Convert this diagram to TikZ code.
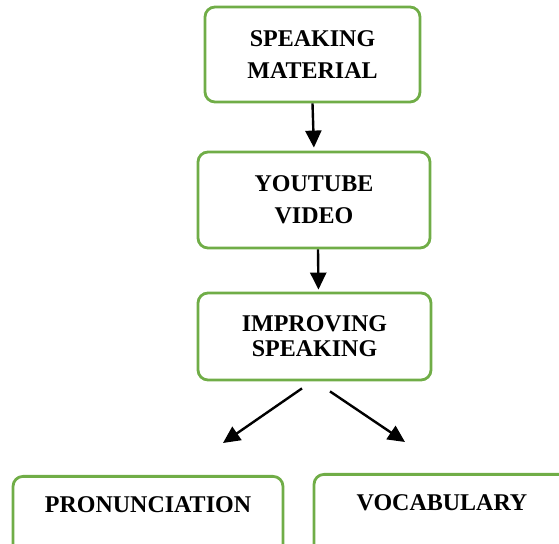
\documentclass[tikz,border=0pt]{standalone}
\usepackage{fontspec}
\setmainfont{Liberation Serif}
\usetikzlibrary{arrows.meta}
\definecolor{boxgreen}{RGB}{112,173,71}

\begin{document}
\begin{tikzpicture}[x=0.5pt, y=-0.5pt,
        box/.style={draw=boxgreen, line width=1.4pt, rounded corners=5pt, align=center, inner sep=0pt, font=\fontsize{12}{16}\selectfont\bfseries},
        lowbox/.style={box, anchor=north, text height=8pt, text depth=30pt, inner ysep=10pt},
        arr/.style={line width=1.2pt, -{Triangle[length=8.5pt, width=8pt]}}]
        \path[use as bounding box, clip] (0, 0) rectangle (559, 544);
        \node[box, minimum width=107.5pt, minimum height=47.5pt] (mat) at (312.5, 54.5) {SPEAKING\\MATERIAL};
        \node[box, minimum width=116pt, minimum height=48pt] (yt) at (314, 200) {YOUTUBE\\VIDEO};
        \node[box, minimum width=116.5pt, minimum height=43.5pt, font=\fontsize{12}{12.5}\selectfont\bfseries] (imp) at (314.5, 336.5) {IMPROVING\\SPEAKING};
        \node[lowbox, minimum width=135pt] (pron) at (148, 475) {PRONUNCIATION};
        \node[lowbox, minimum width=128pt] (voc) at (442, 473) {VOCABULARY};
        \coordinate (l) at (223, 443);
        \coordinate (r) at (405, 442);
        \draw[arr, shorten >=1.5pt] (mat.south) -- (yt.north);
        \draw[arr, shorten >=1pt] ([xshift=2pt]yt.south) -- ([xshift=2pt]imp.north);
        \draw[arr] ([xshift=-6.25pt, yshift=-3.5pt]imp.south) -- (l);
        \draw[arr] ([xshift=7.75pt, yshift=-5pt]imp.south) -- (r);
    \end{tikzpicture}
\end{document}
